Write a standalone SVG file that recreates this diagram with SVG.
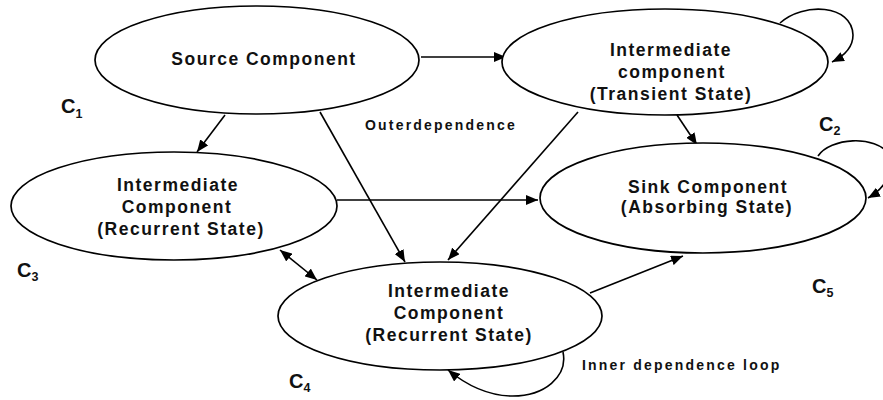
<svg xmlns="http://www.w3.org/2000/svg" width="883" height="400" viewBox="0 0 883 400">
<style>
.node ellipse{fill:#fff;stroke:#000;stroke-width:1.7}
.t{font-family:"Liberation Sans",Arial,sans-serif;font-weight:bold;font-size:17.5px;letter-spacing:1.5px;text-anchor:middle;fill:#111}
.c{font-family:"Liberation Sans",Arial,sans-serif;font-weight:bold;font-size:20px;fill:#111}
.s{font-size:12.5px}
.lbl{font-family:"Liberation Sans",Arial,sans-serif;font-weight:bold;font-size:14px;letter-spacing:2.2px;fill:#111}
.e path{fill:none;stroke:#000;stroke-width:1.6}
</style>
<defs>
<marker id="ah" viewBox="0 0 12 10" refX="12" refY="5" markerWidth="12" markerHeight="10" markerUnits="userSpaceOnUse" orient="auto-start-reverse">
<path d="M0,0 L12,5 L0,10 z" fill="#000"/>
</marker>
</defs>
<rect width="883" height="400" fill="#fff"/>
<g id="edges" class="e">
<path d="M421,57 L506,57" marker-end="url(#ah)"/>
<path d="M225,115 L197,152" marker-end="url(#ah)"/>
<path d="M320,112 L405,262" marker-end="url(#ah)"/>
<path d="M578,112 L448,260" marker-end="url(#ah)"/>
<path d="M677,115 L697,145" marker-end="url(#ah)"/>
<path d="M337,200 L538,200" marker-end="url(#ah)"/>
<path d="M280,250 L317,280" marker-start="url(#ah)" marker-end="url(#ah)"/>
<path d="M590,293 L683,256" marker-end="url(#ah)"/>
<path d="M780,23 C803,2 852,4 853,35 C853,47 844,56 832,62" marker-end="url(#ah)"/>
<path d="M818,156 C830,138 875,134 890,155 C895,172 884,189 868,198" marker-end="url(#ah)"/>
<path d="M563,352 C568,376 545,397 510,396 C485,395 465,384 448,370" marker-end="url(#ah)"/>
</g>
<g id="source" class="node">
<ellipse cx="257" cy="60" rx="162" ry="54"/>
<text class="t" x="264" y="65">Source Component</text>
</g>
<g id="transient" class="node">
<ellipse cx="665" cy="62" rx="163" ry="53"/>
<text class="t" x="671" y="56">Intermediate</text>
<text class="t" x="672" y="78">component</text>
<text class="t" x="671" y="100">(Transient State)</text>
</g>
<g id="recurrent3" class="node">
<ellipse cx="174" cy="206" rx="163" ry="54"/>
<text class="t" x="178" y="191">Intermediate</text>
<text class="t" x="177" y="213">Component</text>
<text class="t" x="181" y="235">(Recurrent State)</text>
</g>
<g id="sink" class="node">
<ellipse cx="703" cy="198" rx="163" ry="55"/>
<text class="t" x="708" y="193">Sink Component</text>
<text class="t" x="707" y="213">(Absorbing State)</text>
</g>
<g id="recurrent4" class="node">
<ellipse cx="440" cy="316" rx="162" ry="54"/>
<text class="t" x="449" y="297">Intermediate</text>
<text class="t" x="449" y="319">Component</text>
<text class="t" x="449" y="341">(Recurrent State)</text>
</g>
<g id="labels">
<text class="c" x="61" y="113">C<tspan class="s" dy="5">1</tspan></text>
<text class="c" x="819" y="131">C<tspan class="s" dy="4">2</tspan></text>
<text class="c" x="17" y="277">C<tspan class="s" dy="4">3</tspan></text>
<text class="c" x="289" y="388">C<tspan class="s" dy="4">4</tspan></text>
<text class="c" x="812" y="293">C<tspan class="s" dy="4">5</tspan></text>
<text class="lbl" x="365" y="130">Outerdependence</text>
<text class="lbl" x="582" y="370">Inner dependence loop</text>
</g>
</svg>
